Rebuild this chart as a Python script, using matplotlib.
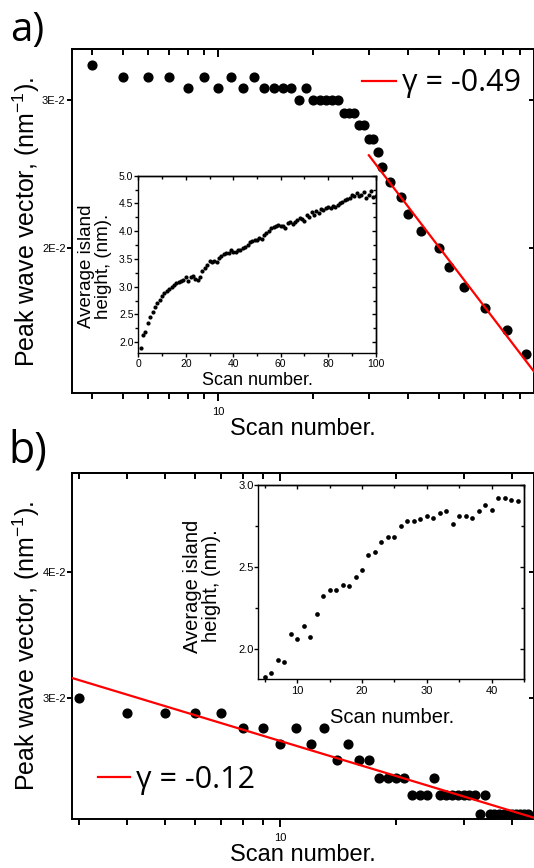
import matplotlib
matplotlib.use('Agg')
import matplotlib.pyplot as plt
from matplotlib.ticker import FixedLocator, NullLocator, NullFormatter, FixedFormatter

plt.rcParams['font.family'] = ['Liberation Sans', 'DejaVu Sans']
plt.rcParams['mathtext.default'] = 'regular'

# ---- panel a, main plot (log-log) ----
scan_a = [4, 5, 6, 7, 8, 9, 10, 11, 12, 13, 14, 15, 16, 17, 18, 19, 20, 21, 22, 23,
          24, 25, 26, 27, 28, 29, 30, 31, 32, 33, 35, 38, 40, 44, 50, 54, 60, 70, 82, 94]
peak_a = [0.033, 0.032, 0.032, 0.032, 0.031, 0.032, 0.031, 0.032, 0.031, 0.032,
          0.031, 0.031, 0.031, 0.031, 0.030, 0.031, 0.030, 0.030, 0.030, 0.030,
          0.030, 0.029, 0.029, 0.029, 0.028, 0.028, 0.027, 0.027, 0.026, 0.025,
          0.024, 0.023, 0.022, 0.021, 0.020, 0.019, 0.018, 0.017, 0.016, 0.015]
fit_a_x = [30, 100]
fit_a_y = [0.0258, 0.01428]
fit_a_label = 'γ = -0.49'

# ---- panel a, inset ----
inset_a_scan = list(range(1, 101))
inset_a_height = [1.90, 2.13, 2.19, 2.35, 2.45, 2.55, 2.64, 2.70, 2.76, 2.84,
                  2.88, 2.93, 2.96, 3.00, 3.03, 3.06, 3.08, 3.10, 3.12, 3.17,
                  3.11, 3.18, 3.20, 3.14, 3.12, 3.18, 3.28, 3.33, 3.40, 3.46,
                  3.44, 3.47, 3.44, 3.52, 3.55, 3.59, 3.60, 3.61, 3.66, 3.62,
                  3.63, 3.67, 3.66, 3.70, 3.72, 3.75, 3.80, 3.83, 3.85, 3.84,
                  3.88, 3.86, 3.93, 3.97, 4.01, 4.06, 4.08, 4.10, 4.11, 4.10,
                  4.09, 4.06, 4.14, 4.16, 4.13, 4.17, 4.20, 4.24, 4.22, 4.18,
                  4.30, 4.26, 4.34, 4.29, 4.36, 4.32, 4.40, 4.38, 4.41, 4.43,
                  4.42, 4.45, 4.43, 4.47, 4.50, 4.53, 4.56, 4.58, 4.60, 4.66,
                  4.63, 4.68, 4.64, 4.66, 4.70, 4.60, 4.65, 4.72, 4.62, 4.64]

# ---- panel b, main plot (log-log) ----
scan_b = list(range(3, 45))
peak_b = [0.030, 0.029, 0.029, 0.029, 0.029, 0.028, 0.028, 0.027, 0.028, 0.027,
          0.028, 0.026, 0.027, 0.026, 0.026, 0.025, 0.025, 0.025, 0.025, 0.024,
          0.024, 0.024, 0.025, 0.024, 0.024, 0.024, 0.024, 0.024, 0.024, 0.024,
          0.023, 0.024, 0.023, 0.023, 0.023, 0.023, 0.023, 0.023, 0.023, 0.023,
          0.023, 0.023]
fit_b_x = [2.88, 45.6]
fit_b_y = [0.0314, 0.0228]
fit_b_label = 'γ = -0.12'

# ---- panel b, inset ----
inset_b_scan = list(range(5, 45))
inset_b_height = [1.83, 1.85, 1.93, 1.92, 2.09, 2.06, 2.14, 2.07, 2.21, 2.32,
                  2.36, 2.36, 2.39, 2.38, 2.44, 2.48, 2.57, 2.59, 2.65, 2.68,
                  2.68, 2.75, 2.78, 2.78, 2.79, 2.81, 2.80, 2.83, 2.84, 2.76,
                  2.81, 2.81, 2.80, 2.84, 2.88, 2.85, 2.92, 2.92, 2.91, 2.90]

# ticks
xmaj_main = [10]
xmaj_main_labels = ['10']
xmin_a = [4, 5, 6, 7, 8, 9, 20, 30, 40, 50, 60, 70, 80, 90]
xmin_b = [3, 4, 5, 6, 7, 8, 9, 20, 30, 40]
ytick_a = [0.02, 0.03]
ytick_a_labels = ['2E-2', '3E-2']
ytick_b = [0.03, 0.04]
ytick_b_labels = ['3E-2', '4E-2']

RED = '#ff0000'


def set_ticks(axis, major, minor, labels=None):
    axis.set_major_locator(FixedLocator(major))
    axis.set_minor_locator(FixedLocator(minor) if minor else NullLocator())
    if labels is None:
        axis.set_major_formatter(NullFormatter())
    else:
        axis.set_major_formatter(FixedFormatter(labels))
    axis.set_minor_formatter(NullFormatter())


def frame(ax, xmaj, xmin, ymaj, ymin, xlab, ylab, lw, xlen, ylen, size, xpad, ypad):
    # outward ticks on bottom/left, inward copies on top/right (Origin style)
    for s in ax.spines.values():
        s.set_linewidth(lw)
    set_ticks(ax.xaxis, xmaj, xmin, xlab)
    set_ticks(ax.yaxis, ymaj, ymin, ylab)
    ax.tick_params(axis='x', which='major', direction='out', length=xlen[0], width=lw,
                   labelsize=size, pad=xpad)
    ax.tick_params(axis='x', which='minor', direction='out', length=xlen[1], width=lw)
    ax.tick_params(axis='y', which='major', direction='out', length=ylen[0], width=lw,
                   labelsize=size, pad=ypad)
    ax.tick_params(axis='y', which='minor', direction='out', length=ylen[1], width=lw)
    top = ax.secondary_xaxis('top')
    set_ticks(top.xaxis, xmaj, xmin)
    top.tick_params(which='major', direction='in', length=xlen[0], width=lw)
    top.tick_params(which='minor', direction='in', length=xlen[1], width=lw)
    top.spines['top'].set_linewidth(lw)
    right = ax.secondary_yaxis('right')
    set_ticks(right.yaxis, ymaj, ymin)
    right.tick_params(which='major', direction='in', length=ylen[0], width=lw)
    right.tick_params(which='minor', direction='in', length=ylen[1], width=lw)
    right.spines['right'].set_linewidth(lw)


fig = plt.figure(figsize=(5.34, 8.68), dpi=100)
W, H = 534.0, 868.0


def box(l, t, r, b):
    return [l / W, 1 - b / H, (r - l) / W, (b - t) / H]


# ================= panel a =================
ax_a = fig.add_axes(box(72, 49, 534, 393.3))
ax_a.set_xscale('log')
ax_a.set_yscale('log')
ax_a.plot(scan_a, peak_a, 'o', color='black', ms=6.3, zorder=3)
ax_a.plot(fit_a_x, fit_a_y, '-', color=RED, lw=1.6, label=fit_a_label, zorder=4)
ax_a.set_xlim(3.446, 100)
ax_a.set_ylim(0.013456, 0.0345)
frame(ax_a, xmaj_main, xmin_a, ytick_a, [], xmaj_main_labels, ytick_a_labels,
      1.4, (6, 4.3), (3.6, 0), 8, 4, 1)
ax_a.legend(loc='center left', bbox_to_anchor=(0.628, 0.90), frameon=False,
            prop={'family': ['Open Sans', 'DejaVu Sans'], 'size': 22},
            handlelength=1.1, handletextpad=0.2, borderpad=0, borderaxespad=0)

ins_a = fig.add_axes(box(138.3, 175.7, 375.7, 353.3))
ins_a.set_facecolor('white')
ins_a.plot(inset_a_scan, inset_a_height, 'o', color='black', ms=3.0, mew=0)
ins_a.set_xlim(0, 100)
ins_a.set_ylim(1.8, 5.0)
frame(ins_a, [0, 20, 40, 60, 80, 100], [10, 30, 50, 70, 90],
      [2.0, 2.5, 3.0, 3.5, 4.0, 4.5, 5.0], [2.25, 2.75, 3.25, 3.75, 4.25, 4.75],
      ['0', '20', '40', '60', '80', '100'],
      ['2.0', '2.5', '3.0', '3.5', '4.0', '4.5', '5.0'],
      1.0, (3, 2), (3, 2), 7.5, 1, 0.5)

fig.text(10 / W, 1 - 41 / H, 'a)', fontsize=29, family=['Open Sans', 'DejaVu Sans'],
         va='baseline', ha='left')
fig.text(303 / W, 1 - 435 / H, 'Scan number.', fontsize=17, ha='center', va='baseline')
fig.text(26 / W, 1 - 222 / H, 'Peak wave vector, (nm$^{-1}$).', fontsize=18,
         rotation=90, ha='center', va='center')
fig.text(257 / W, 1 - 385 / H, 'Scan number.', fontsize=13, ha='center', va='baseline')
fig.text(95 / W, 1 - 266 / H, 'Average island\nheight, (nm).', fontsize=13.5,
         rotation=90, ha='center', va='center', multialignment='center',
         linespacing=1.0)

# ================= panel b =================
ax_b = fig.add_axes(box(72.3, 473.3, 534, 818.7))
ax_b.set_xscale('log')
ax_b.set_yscale('log')
ax_b.plot(scan_b, peak_b, 'o', color='black', ms=6.3, zorder=3)
ax_b.plot(fit_b_x, fit_b_y, '-', color=RED, lw=1.6, label=fit_b_label, zorder=4)
ax_b.set_xlim(2.88, 45.6)
ax_b.set_ylim(0.02275, 0.0502)
frame(ax_b, xmaj_main, xmin_b, ytick_b, [], xmaj_main_labels, ytick_b_labels,
      1.4, (6, 4.3), (3.6, 0), 8, 4, 1)
ax_b.legend(loc='center left', bbox_to_anchor=(0.056, 0.113), frameon=False,
            prop={'family': ['Open Sans', 'DejaVu Sans'], 'size': 22},
            handlelength=1.05, handletextpad=0.2, borderpad=0, borderaxespad=0)

ins_b = fig.add_axes(box(258.3, 485, 524, 679.3))
ins_b.set_facecolor('white')
ins_b.plot(inset_b_scan, inset_b_height, 'o', color='black', ms=3.4, mew=0)
ins_b.set_xlim(4, 45)
ins_b.set_ylim(1.813, 3.0)
frame(ins_b, [10, 20, 30, 40], [5, 15, 25, 35, 45],
      [2.0, 2.5, 3.0], [1.75, 2.25, 2.75],
      ['10', '20', '30', '40'], ['2.0', '2.5', '3.0'],
      1.0, (3, 2), (3, 2), 8, 2, 0.5)

fig.text(8 / W, 1 - 462 / H, 'b)', fontsize=31, family=['Open Sans', 'DejaVu Sans'],
         va='baseline', ha='left')
fig.text(303 / W, 1 - 861 / H, 'Scan number.', fontsize=17, ha='center', va='baseline')
fig.text(26 / W, 1 - 646 / H, 'Peak wave vector, (nm$^{-1}$).', fontsize=18,
         rotation=90, ha='center', va='center')
fig.text(392 / W, 1 - 723 / H, 'Scan number.', fontsize=14.5, ha='center', va='baseline')
fig.text(202 / W, 1 - 586 / H, 'Average island\nheight, (nm).', fontsize=14.5,
         rotation=90, ha='center', va='center', multialignment='center',
         linespacing=1.0)

fig.savefig('out.png', dpi=100)
